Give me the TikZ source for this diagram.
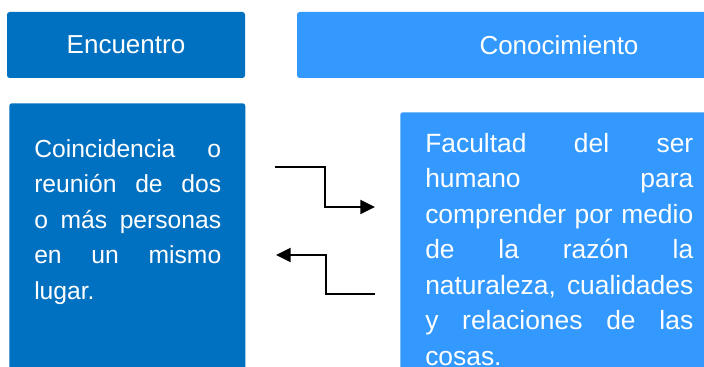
\documentclass[tikz,border=0pt]{standalone}
\usepackage{fontspec}
\setmainfont{Liberation Sans}
\usetikzlibrary{arrows.meta, calc}
\definecolor{DB}{RGB}{0,112,192}
\definecolor{LB}{RGB}{51,153,255}
\newlength\upx
\setlength\upx{0.75pt}
\hbadness=10000
\begin{document}
\begin{tikzpicture}[
  x=0.75pt, y=-0.75pt,
  head/.style={fill=#1, rounded corners=2pt, minimum height=66\upx,
               inner sep=0pt, text=white, font=\fontsize{19.5}{23}\selectfont},
  body/.style={fill=#1, rounded corners=2pt, inner sep=0pt, anchor=north west},
  txt/.style={text=white, align=justify, inner sep=0pt, anchor=north west,
              execute at begin node={\tolerance=10000\hyphenpenalty=10000}},
  arr/.style={-{Triangle[length=11pt, width=10.5pt]}, line width=1.5pt}
]
\useasboundingbox (0,0) rectangle (704,367);
\clip (0,0) rectangle (704,367);

% Headers
\node[head=DB, minimum width=238\upx] (hEnc) at (126,45) {Encuentro};
\node[head=LB, minimum width=524\upx] (hCon) at (559,45) {Conocimiento};

% Definition boxes
\node[body=DB, minimum width=236\upx, minimum height=280\upx] (bEnc) at (9,103) {};
\node[body=LB, minimum width=318\upx, minimum height=270\upx] (bCon) at (400,112) {};

\node[txt, text width=187\upx, font=\fontsize{18.5}{26.6}\selectfont] (tEnc)
  at ([xshift=25\upx, yshift=-36\upx]bEnc.north west)
  {Coincidencia o\linebreak reunión de dos\linebreak o más personas\linebreak
   en un mismo\linebreak lugar.};
\node[txt, text width=268\upx, font=\fontsize{19.8}{26.6}\selectfont] (tCon)
  at ([xshift=25\upx, yshift=-21\upx]bCon.north west)
  {Facultad del ser\linebreak humano para\linebreak comprender por medio\linebreak
   de la razón la\linebreak naturaleza, cualidades\linebreak y relaciones de las\linebreak
   cosas.};

% Arrows between the boxes
\coordinate (t1) at (275,167);
\coordinate (t2) at (375,207);
\coordinate (b1) at (375,294);
\coordinate (b2) at (276,255);
\draw[arr] (t1) -| ($(t1)!.5!(t2)$) |- (t2);
\draw[arr] (b1) -| ($(b1)!.5!(b2)$) |- (b2);
\end{tikzpicture}
\end{document}
